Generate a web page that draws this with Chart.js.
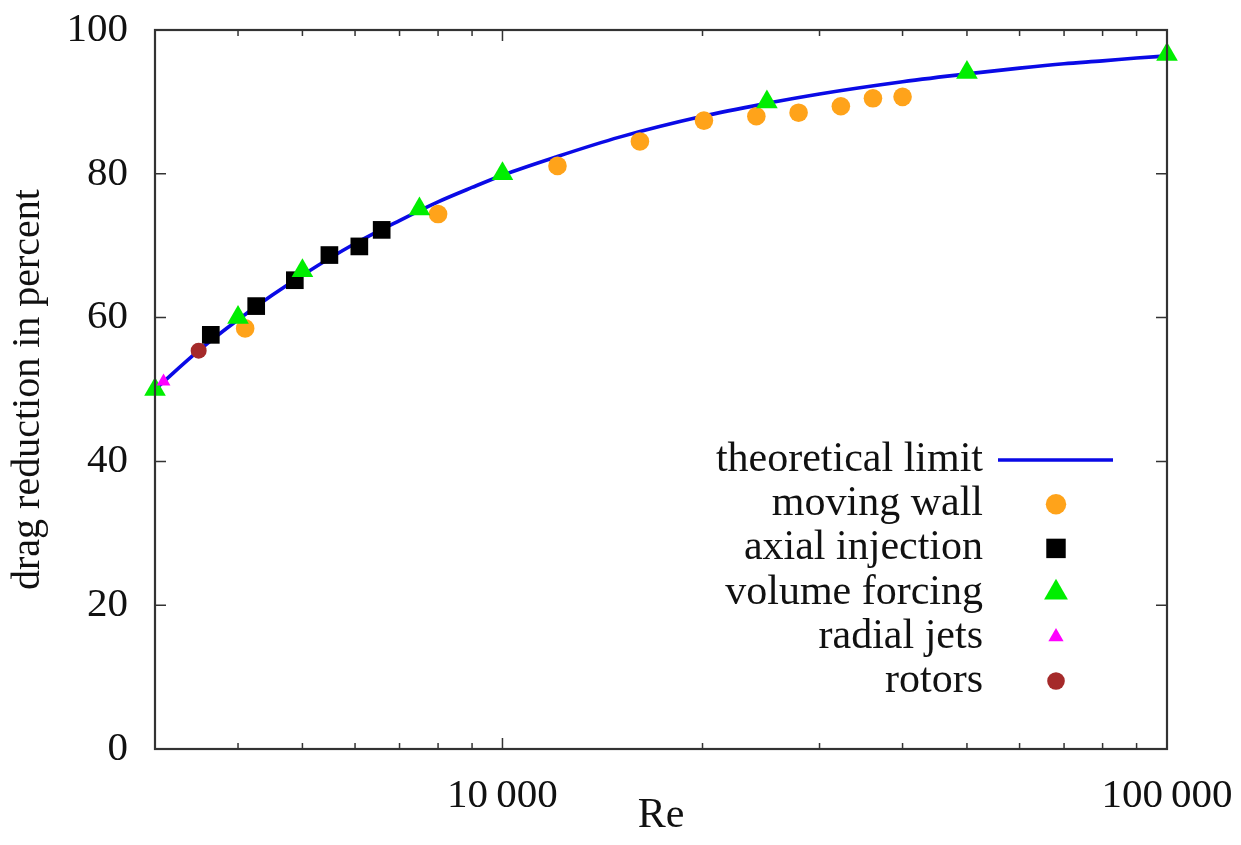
<!DOCTYPE html>
<html><head><meta charset="utf-8">
<script src="https://cdn.jsdelivr.net/npm/chart.js@4.4.1/dist/chart.umd.min.js"></script>
<style>html,body{margin:0;padding:0;background:#fff;overflow:hidden;}</style>
</head><body>
<canvas id="c" width="1241" height="845" style="display:block;width:1241px;height:845px"></canvas>
<script>
// ---- data ----
const curveRe = [3000, 3500, 4000, 4500, 5000, 6000, 7000, 8000, 9000, 10000, 12000, 15000, 20000, 25000, 30000, 40000, 50000, 60000, 70000, 80000, 90000, 100000];
const curveDR = [50.0, 55.5, 59.7, 63.1, 65.9, 70.3, 73.5, 76.1, 78.1, 79.8, 82.3, 85.1, 88.0, 89.8, 91.1, 92.8, 93.9, 94.7, 95.3, 95.7, 96.1, 96.4];

const movingWallRe = [4100, 8000, 12100, 16100, 20100, 24100, 27900, 32300, 36100, 40000];
const movingWallDR = [58.5, 74.4, 81.1, 84.5, 87.4, 88.0, 88.5, 89.4, 90.5, 90.7];

const axialRe = [3640, 4260, 4870, 5490, 6090, 6580];
const axialDR = [57.6, 61.6, 65.2, 68.7, 69.9, 72.2];

const volumeRe = [3000, 4000, 5000, 7500, 10000, 25000, 50000, 100000];
const volumeDR = [50.0, 60.0, 66.5, 75.1, 80.0, 90.0, 94.1, 96.6];

const radialRe = [3090];
const radialDR = [51.1];

const rotorsRe = [3490];
const rotorsDR = [55.4];

const seriesLabels = ['theoretical limit', 'moving wall', 'axial injection', 'volume forcing', 'radial jets', 'rotors'];
const xMajorTicks = [10000, 100000];
const xMinorTicks = [4000, 5000, 6000, 7000, 8000, 9000, 20000, 30000, 40000, 50000, 60000, 70000, 80000, 90000];
const yTicks = [0, 20, 40, 60, 80, 100];

// ---- helpers ----
const FONT = "'Liberation Serif','Times New Roman',serif";
const pts = (xs, ys) => xs.map((v, i) => ({x: v, y: ys[i]}));
const fmtNum = v => String(v).replace(/\B(?=(\d{3})+(?!\d))/g, '\u2009');

function drawMarker(ctx, style, r, x, y, color) {
  ctx.save();
  ctx.fillStyle = color;
  ctx.beginPath();
  if (style === 'circle') {
    ctx.arc(x, y, r, 0, Math.PI * 2);
  } else if (style === 'rect') {
    const s = r * Math.SQRT1_2;
    ctx.rect(x - s, y - s, 2 * s, 2 * s);
  } else if (style === 'triangle') {
    for (let k = 0; k < 3; k++) {
      const a = k * 2 * Math.PI / 3;
      const px = x + Math.sin(a) * r, py = y - Math.cos(a) * r;
      if (k === 0) ctx.moveTo(px, py); else ctx.lineTo(px, py);
    }
    ctx.closePath();
  }
  ctx.fill();
  ctx.restore();
}

const framePlugin = {
  id: 'frame',
  afterDatasetsDraw(chart) {
    const {ctx, chartArea: a, scales: {x, y}} = chart;
    ctx.save();
    ctx.strokeStyle = '#333';
    ctx.lineWidth = 1.5;
    ctx.beginPath();
    xMinorTicks.forEach(v => {
      const px = x.getPixelForValue(v);
      ctx.moveTo(px, a.bottom); ctx.lineTo(px, a.bottom - 6);
      ctx.moveTo(px, a.top); ctx.lineTo(px, a.top + 6);
    });
    xMajorTicks.forEach(v => {
      const px = x.getPixelForValue(v);
      ctx.moveTo(px, a.bottom); ctx.lineTo(px, a.bottom - 11);
      ctx.moveTo(px, a.top); ctx.lineTo(px, a.top + 11);
    });
    yTicks.forEach(v => {
      const py = y.getPixelForValue(v);
      ctx.moveTo(a.left, py); ctx.lineTo(a.left + 11, py);
      ctx.moveTo(a.right, py); ctx.lineTo(a.right - 11, py);
    });
    ctx.stroke();
    ctx.lineWidth = 2.2;
    ctx.strokeRect(a.left, a.top, a.right - a.left, a.bottom - a.top);
    ctx.restore();
  }
};

const legendPlugin = {
  id: 'customLegend',
  afterDraw(chart) {
    const ctx = chart.ctx;
    const textRight = 983, markX = 1056, lineX0 = 998, lineX1 = 1113;
    const y0 = 460, dy = 44.2, markScale = 1.1;
    ctx.save();
    ctx.font = '42px ' + FONT;
    ctx.textAlign = 'right';
    ctx.textBaseline = 'middle';
    chart.data.datasets.forEach((ds, i) => {
      const yy = y0 + i * dy;
      ctx.fillStyle = '#111';
      ctx.fillText(ds.label, textRight, yy);
      if (ds.showLine) {
        ctx.strokeStyle = ds.borderColor;
        ctx.lineWidth = ds.borderWidth;
        ctx.beginPath(); ctx.moveTo(lineX0, yy); ctx.lineTo(lineX1, yy); ctx.stroke();
      } else {
        drawMarker(ctx, ds.pointStyle, ds.pointRadius * markScale, markX, yy, ds.backgroundColor);
      }
    });
    ctx.restore();
  }
};

const mk = (label, xs, ys, color, style, r, order) => ({
  label, data: pts(xs, ys), showLine: false,
  backgroundColor: color, borderColor: color, borderWidth: 0,
  pointStyle: style, pointRadius: r, pointHoverRadius: r, pointBorderWidth: 0,
  clip: false, order
});

const zeroPad = s => { s.paddingTop = 0; s.paddingBottom = 0; s.paddingLeft = 0; s.paddingRight = 0; };

new Chart(document.getElementById('c'), {
  type: 'scatter',
  data: {
    datasets: [
      {label: seriesLabels[0], data: pts(curveRe, curveDR), showLine: true,
       borderColor: '#0a0ae6', backgroundColor: '#0a0ae6', borderWidth: 3.6,
       pointRadius: 0, pointHoverRadius: 0, cubicInterpolationMode: 'monotone', clip: false, order: 5},
      mk(seriesLabels[1], movingWallRe, movingWallDR, '#ffa31a', 'circle', 9.3, 4),
      mk(seriesLabels[2], axialRe, axialDR, '#000000', 'rect', 12.5, 3),
      mk(seriesLabels[3], volumeRe, volumeDR, '#00ee00', 'triangle', 12.5, 2),
      mk(seriesLabels[4], radialRe, radialDR, '#ff00ff', 'triangle', 8, 1),
      mk(seriesLabels[5], rotorsRe, rotorsDR, '#a52a2a', 'circle', 8, 0)
    ]
  },
  options: {
    responsive: false,
    animation: false,
    devicePixelRatio: 1,
    layout: {padding: {top: 30, right: 74, left: 0, bottom: 0}},
    plugins: {legend: {display: false}, tooltip: {enabled: false}},
    events: [],
    scales: {
      x: {
        type: 'logarithmic', position: 'bottom', min: 3000, max: 100000,
        grid: {display: false, drawTicks: false},
        border: {display: false},
        afterBuildTicks: s => { s.ticks = xMajorTicks.map(v => ({value: v, major: true})); },
        afterFit: s => { s.height = 96; zeroPad(s); },
        ticks: {
          autoSkip: false, maxRotation: 0, minRotation: 0, padding: 23,
          color: '#111', font: {family: FONT, size: 41},
          callback: v => fmtNum(v)
        },
        title: {display: true, text: 'Re', color: '#111', font: {family: FONT, size: 42}}
      },
      y: {
        type: 'linear', min: 0, max: 100,
        grid: {display: false, drawTicks: false},
        border: {display: false},
        afterBuildTicks: s => { s.ticks = yTicks.map(v => ({value: v})); },
        afterFit: s => { s.width = 155; zeroPad(s); },
        ticks: {padding: 27, color: '#111', font: {family: FONT, size: 41}},
        title: {display: true, text: 'drag reduction in percent', color: '#111', font: {family: FONT, size: 40}}
      }
    }
  },
  plugins: [framePlugin, legendPlugin]
});
</script>
</body></html>
